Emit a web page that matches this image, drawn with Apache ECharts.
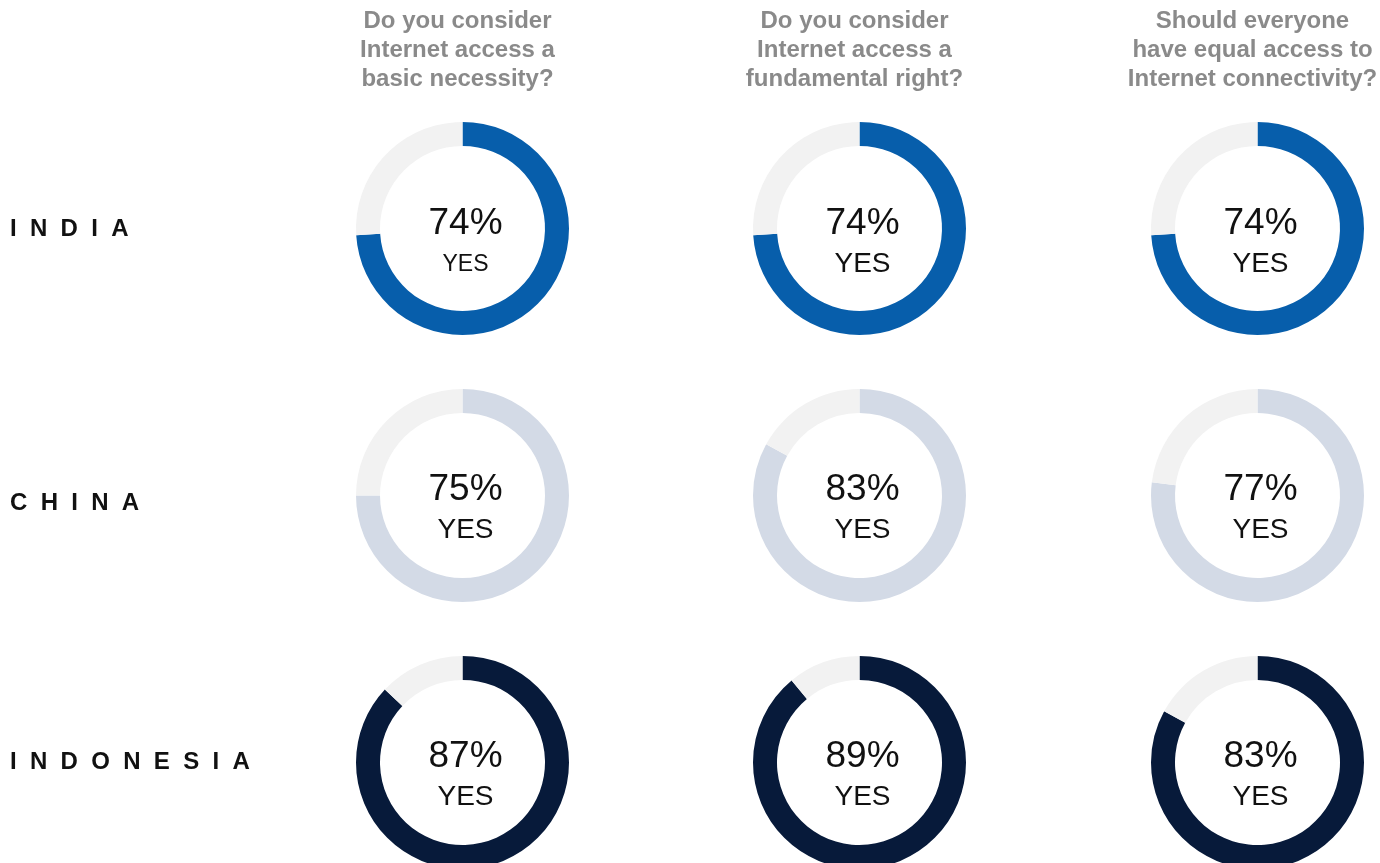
<!DOCTYPE html>
<html>
<head>
<meta charset="utf-8">
<script src="https://cdn.jsdelivr.net/npm/echarts@6/dist/echarts.min.js"></script>
<style>
  html, body { margin: 0; padding: 0; background: #fff; }
  #chart { width: 1380px; height: 863px; }
</style>
</head>
<body>
<div id="chart"></div>
<script>
// Survey answers: share of respondents answering "yes"
const countries = ['INDIA', 'CHINA', 'INDONESIA'];
const questions = [
  'Do you consider\nInternet access a\nbasic necessity?',
  'Do you consider\nInternet access a\nfundamental right?',
  'Should everyone\nhave equal access to\nInternet connectivity?'
];
const yesIndia = [74, 74, 74];
const yesChina = [75, 83, 77];
const yesIndonesia = [87, 89, 83];
const yesByCountry = [yesIndia, yesChina, yesIndonesia];

// Layout and styling
const FONT = "'Liberation Sans', Arial, Helvetica, sans-serif";
const colX = [462.5, 859.5, 1257.5];
const rowY = [228.5, 495.5, 762.5];
const rowLabelY = [229, 503, 762];
const countryColors = ['#075EAB', '#D3DAE6', '#071A3A'];
const restColor = '#F2F2F2';

const chart = echarts.init(document.getElementById('chart'), null, { renderer: 'canvas' });

const series = [];
yesByCountry.forEach((vals, r) => {
  vals.forEach((v, c) => {
    const small = (r === 0 && c === 0);
    series.push({
      type: 'pie',
      silent: true,
      center: [colX[c], rowY[r]],
      radius: [82.5, 106.5],
      startAngle: 90,
      clockwise: true,
      avoidLabelOverlap: false,
      labelLine: { show: false },
      label: { show: false },
      emphasis: { disabled: true },
      data: [
        {
          value: v,
          name: 'Yes',
          itemStyle: { color: countryColors[r] },
          label: {
            show: true,
            position: 'center',
            formatter: '{p|' + v + '%}\n{y|YES}',
            padding: [r === 0 ? 31 : 29, 0, 0, 6],
            rich: {
              p: { fontFamily: FONT, fontSize: 37, color: '#111', lineHeight: 41, align: 'center' },
              y: { fontFamily: FONT, fontSize: small ? 23 : 28, color: '#111', lineHeight: 41, align: 'center' }
            }
          }
        },
        {
          value: 100 - v,
          name: 'No',
          itemStyle: { color: restColor },
          label: { show: false }
        }
      ]
    });
  });
});

// Column headings
const titles = questions.map((q, c) => ({
  text: q,
  left: colX[c] - 5,
  top: 7,
  padding: 0,
  textAlign: 'center',
  textStyle: {
    fontFamily: FONT,
    fontSize: 24,
    fontWeight: 'bold',
    color: '#8A8A8A',
    lineHeight: 29
  }
}));

// Row labels with wide letter spacing
const spaced = name => name.split('').join('{s| }');
countries.forEach((name, r) => {
  titles.push({
    text: spaced(name),
    left: 10,
    top: rowLabelY[r],
    padding: 0,
    textAlign: 'left',
    textVerticalAlign: 'middle',
    textStyle: {
      fontFamily: FONT,
      fontSize: 24,
      fontWeight: 'bold',
      color: '#111',
      rich: {
        s: { width: 13.3, fontSize: 24 }
      }
    }
  });
});

chart.setOption({
  animation: false,
  backgroundColor: '#fff',
  title: titles,
  series: series
});
</script>
</body>
</html>
